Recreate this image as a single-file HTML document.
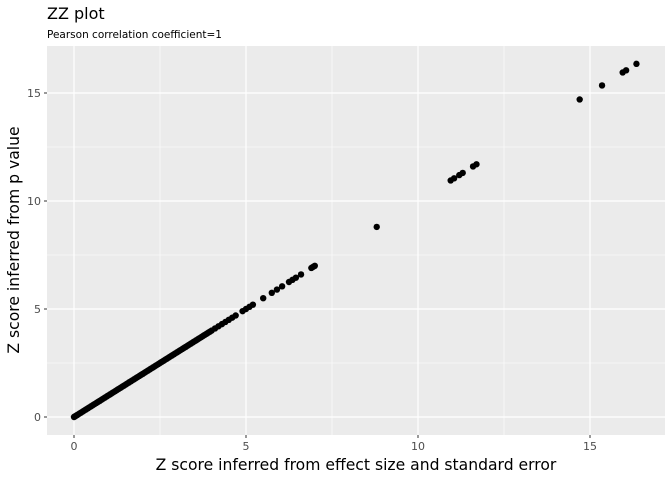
<!DOCTYPE html>
<html><head><meta charset="utf-8"><style>
body{margin:0;background:#fff;font-family:"DejaVu Sans",sans-serif}
svg text{font-family:"DejaVu Sans",sans-serif}
</style></head><body>
<svg id="chart" width="672" height="480">
<text x="47" y="19" font-size="16" fill="#000">ZZ plot</text>
<text x="47" y="38" font-size="10.5" fill="#000">Pearson correlation coefficient=1</text>
<rect x="47" y="46" width="618" height="389" fill="#ebebeb"/>
<g id="grid"></g><g id="pts"></g><g id="axes"></g>
<text x="356" y="470" font-size="15.6" text-anchor="middle" fill="#000">Z score inferred from effect size and standard error</text>
<text transform="translate(19,240) rotate(-90)" font-size="15.6" text-anchor="middle" fill="#000">Z score inferred from p value</text>
</svg>
<script>
const xTicks=[0,5,10,15];
const yTicks=[0,5,10,15];
const zx=[0,0.02,0.05,0.08,0.1,0.15,0.2,0.25,0.3,0.35,0.4,0.45,0.5,0.55,0.6,0.65,0.7,0.75,0.8,0.85,0.9,0.95,1.0,1.05,1.1,1.15,1.2,1.25,1.3,1.35,1.4,1.45,1.5,1.55,1.6,1.65,1.7,1.75,1.8,1.85,1.9,1.95,2.0,2.05,2.1,2.15,2.2,2.25,2.3,2.35,2.4,2.45,2.5,2.55,2.6,2.65,2.7,2.75,2.8,2.85,2.9,2.95,3.0,3.05,3.1,3.15,3.2,3.25,3.3,3.35,3.4,3.45,3.5,3.55,3.6,3.65,3.7,3.75,3.8,3.85,3.9,3.95,4.0,4.1,4.2,4.3,4.4,4.5,4.6,4.7,4.9,5.0,5.1,5.2,5.5,5.75,5.9,6.05,6.25,6.35,6.45,6.6,6.9,6.95,7.0,8.8,10.95,11.05,11.2,11.3,11.6,11.7,14.7,15.35,15.95,16.05,16.35];
const zy=zx.slice();
const X=v=>74+v*34.4, Y=v=>417-v*21.6;
const NS="http://www.w3.org/2000/svg";
function mk(t,a,p){const e=document.createElementNS(NS,t);for(const k in a)e.setAttribute(k,a[k]);p.appendChild(e);return e;}
const g=document.getElementById('grid'),ax=document.getElementById('axes'),pts=document.getElementById('pts');
for(let i=0;i<xTicks.length;i++){
 const v=xTicks[i];
 if(i<xTicks.length-1){const m=mk('line',{x1:X(v+2.5),x2:X(v+2.5),y1:46,y2:435,stroke:'#fff','stroke-width':0.6},g);
 
 }
 const l=mk('line',{x1:X(v),x2:X(v),y1:46,y2:435,stroke:'#fff','stroke-width':1.2},g);
 
 
 mk('line',{x1:X(v),x2:X(v),y1:435,y2:438,stroke:'#333'},ax);
 const t=mk('text',{x:X(v),y:450,'font-size':11,'text-anchor':'middle',fill:'#4d4d4d'},ax);t.textContent=v;
 
 
}
for(let i=0;i<yTicks.length;i++){
 const v=yTicks[i];
 if(i<yTicks.length-1){const m=mk('line',{x1:47,x2:665,y1:Y(v+2.5),y2:Y(v+2.5),stroke:'#fff','stroke-width':0.6},g);
 
 }
 const l=mk('line',{x1:47,x2:665,y1:Y(v),y2:Y(v),stroke:'#fff','stroke-width':1.2},g);
 
 
 mk('line',{x1:44,x2:47,y1:Y(v),y2:Y(v),stroke:'#333'},ax);
 const t=mk('text',{x:41,y:Y(v)+4,'font-size':11,'text-anchor':'end',fill:'#4d4d4d'},ax);t.textContent=v;
 
 
}
for(let i=0;i<zx.length;i++){
 const c=mk('circle',{cx:X(zx[i]),cy:Y(zy[i]),r:3.2,fill:'#000'},pts);
 
 
}
</script>
</body></html>
